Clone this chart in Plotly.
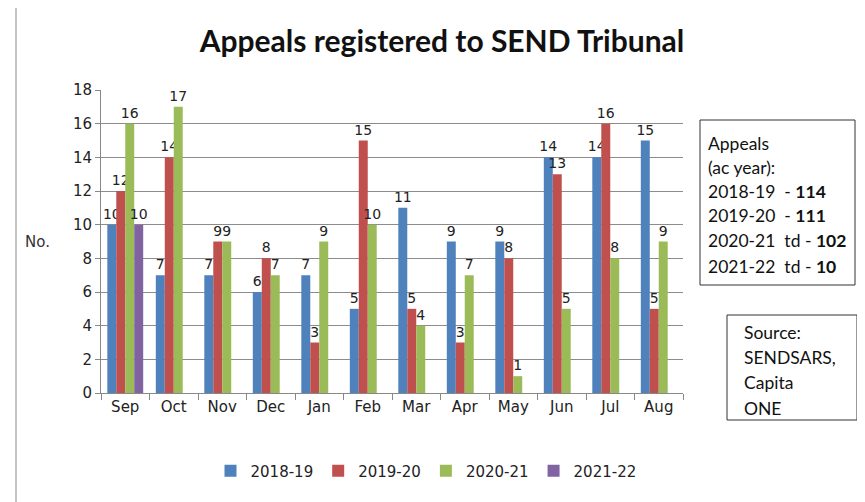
import plotly.graph_objects as go

months = ["Sep", "Oct", "Nov", "Dec", "Jan", "Feb", "Mar", "Apr", "May", "Jun", "Jul", "Aug"]
s2018_19 = [10, 7, 7, 6, 7, 5, 11, 9, 9, 14, 14, 15]
s2019_20 = [12, 14, 9, 8, 3, 15, 5, 3, 8, 13, 16, 5]
s2020_21 = [16, 17, 9, 7, 9, 10, 4, 7, 1, 5, 8, 9]
s2021_22 = [10, None, None, None, None, None, None, None, None, None, None, None]
series_names = ["2018-19", "2019-20", "2020-21", "2021-22"]
colors = ["#4F81BD", "#C0504D", "#9BBB59", "#8064A2"]

box1_lines = ["Appeals", "(ac year):", "2018-19  - <b>114</b>", "2019-20  - <b>111</b>",
              "2020-21  td - <b>102</b>", "2021-22  td - <b>10</b>"]
box2_lines = ["Source:", "SENDSARS,", "Capita", "ONE"]

W, H = 865, 502
O = 8  # default page body margin
L, R, T, B = 101, 683, 90, 393
FW, FH = W - O, H - O


def px(x):
    return (x - L) / (R - L)


def py(y):
    return (B - y) / (B - T)


fig = go.Figure()
for name, vals, col in zip(series_names, [s2018_19, s2019_20, s2020_21, s2021_22], colors):
    fig.add_trace(go.Bar(
        x=months, y=vals, name=name, marker_color=col, marker_line_width=0,
        text=[("" if v is None else str(v)) for v in vals], textposition="outside",
        constraintext="none",
        textfont=dict(family="DejaVu Sans", size=14, color="#222"), cliponaxis=False,
    ))

fig.update_layout(
    width=FW, height=FH,
    margin=dict(l=L - O, r=W - R, t=T - O, b=H - B, autoexpand=False),
    paper_bgcolor="white", plot_bgcolor="white",
    barmode="group", bargap=0.26, bargroupgap=0,
    title=dict(text="<b>Appeals registered to SEND Tribunal</b>", x=(442 - O) / FW, xanchor="center",
               y=1 - (41 - O) / FH, yanchor="middle",
               font=dict(family="Lato", size=30, color="#111")),
    font=dict(family="DejaVu Sans", size=14, color="#222"),
    legend=dict(orientation="h", x=px(426), xanchor="center", y=py(471), yanchor="middle",
                font=dict(family="DejaVu Sans", size=15, color="#222"),
                traceorder="normal", bgcolor="rgba(0,0,0,0)"),
    showlegend=True,
)
fig.update_xaxes(showline=True, linecolor="#888", linewidth=1, ticks="outside", tickson="boundaries",
                 ticklen=6, tickcolor="#888", showgrid=False,
                 tickfont=dict(family="DejaVu Sans", size=15, color="#222"))
fig.update_yaxes(range=[0, 18], dtick=2, showline=True, linecolor="#888", linewidth=1,
                 ticks="outside", ticklen=5, tickcolor="#888", showgrid=True, gridcolor="#8c8c8c",
                 gridwidth=1, zeroline=False,
                 tickfont=dict(family="DejaVu Sans", size=15, color="#222"))

shapes = [
    dict(type="rect", xref="paper", yref="paper", x0=px(16), x1=px(880), y0=py(4), y1=py(520),
         line=dict(color="#c4c4c4", width=2), fillcolor="rgba(0,0,0,0)", layer="below"),
    dict(type="rect", xref="paper", yref="paper", x0=px(700), x1=px(855), y0=py(120), y1=py(285),
         line=dict(color="#333", width=1), fillcolor="white"),
    dict(type="rect", xref="paper", yref="paper", x0=px(727), x1=px(857), y0=py(315), y1=py(420),
         line=dict(color="#333", width=1), fillcolor="white"),
]
annotations = [
    dict(text="No.", xref="paper", yref="paper", x=px(37), y=py(242), showarrow=False,
         font=dict(family="DejaVu Sans", size=15, color="#333"), xanchor="center", yanchor="middle"),
]
for i, t in enumerate(box1_lines):
    ys = [143, 167, 191, 215, 240, 266][i]
    annotations.append(dict(text=t, xref="paper", yref="paper", x=px(706), y=py(ys), showarrow=False,
                            xanchor="left", yanchor="middle",
                            font=dict(family="Lato", size=17.5, color="#111")))
for i, t in enumerate(box2_lines):
    ys = [332, 357, 382, 408][i]
    annotations.append(dict(text=t, xref="paper", yref="paper", x=px(742), y=py(ys), showarrow=False,
                            xanchor="left", yanchor="middle",
                            font=dict(family="Lato", size=17.5, color="#111")))
fig.update_layout(shapes=shapes, annotations=annotations)

fig.write_html("out.html")
